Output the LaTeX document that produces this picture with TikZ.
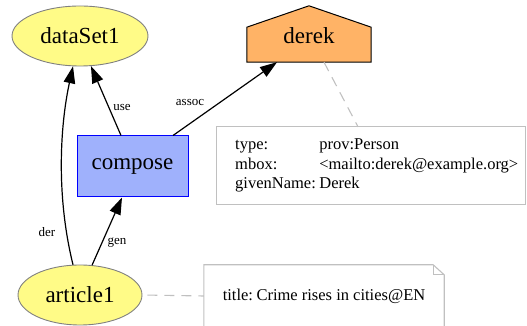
\documentclass[tikz,border=0pt]{standalone}
\usepackage{fontspec}
\setmainfont{Liberation Serif}
\newfontfamily\provfont{Liberation Serif}
\usetikzlibrary{arrows.meta,shapes.geometric,calc}

\definecolor{entityfill}{HTML}{FFFB87}
\definecolor{entityline}{HTML}{808080}
\definecolor{activityfill}{HTML}{9FB1FC}
\definecolor{activityline}{HTML}{0000FF}
\definecolor{agentfill}{HTML}{FFB366}
\definecolor{notegray}{HTML}{C0C0C0}

\tikzset{
  mainfont/.style={font=\provfont\fontsize{23}{27}\selectfont},
  entity/.style={ellipse, draw=entityline, fill=entityfill, line width=0.9pt,
    mainfont, inner sep=0pt},
  activity/.style={rectangle, draw=activityline, fill=activityfill, line width=1pt,
    mainfont, minimum width=111pt, minimum height=61pt, inner sep=0pt},
  agentbox/.style={rectangle, minimum width=124pt, minimum height=56pt, inner sep=0pt},
  agentshape/.style={draw=black, fill=agentfill, line width=1pt, line join=miter},
  notebox/.style={rectangle, inner sep=0pt},
  notelines/.style={draw=notegray, line width=1.1pt},
  notetext/.style={font=\provfont\fontsize{16.5}{19.5}\selectfont, inner sep=0pt},
  rel/.style={draw=black, line width=1.2pt, -{Triangle[length=17pt,width=11.5pt]}},
  rellabel/.style={font=\provfont\fontsize{13}{15}\selectfont, inner sep=0pt},
  annolink/.style={draw=notegray, line width=1.1pt, dash pattern=on 10pt off 7pt},
}

\begin{document}
\begin{tikzpicture}[x=1pt,y=1pt]
  \useasboundingbox (0,0) rectangle (527,326);

  % entities, activity, agent
  \node[entity, minimum width=136pt, minimum height=60pt] (dataSet1) at (80,290) {dataSet1};
  \node[entity, minimum width=124pt, minimum height=60pt] (article1) at (80,31) {article1};
  \node[activity] (compose) at (132.5,159.5) {compose};

  \node[agentbox] (derek) at (309,292) {};
  \path[agentshape] (derek.south west) -- (derek.south east)
    -- ($(derek.south east)+(0,35)$) -- (derek.north)
    -- ($(derek.south west)+(0,35)$) -- cycle;
  \node[mainfont, inner sep=0pt] (dereklabel) at ([yshift=-2pt]derek.center) {derek};

  % annotation for derek
  \node[notebox, minimum width=308pt, minimum height=77pt] (derekinfo) at (371,160.5) {};
  \draw[notelines] (derekinfo.south west) rectangle (derekinfo.north east);
  \node[notetext, anchor=west] (derekinfotext) at (235,160.5) {%
    \begin{tabular}{@{}l@{\hspace{3.5pt}}l@{}}
      type: & prov:Person\\
      mbox: & <mailto:derek@example.org>\\
      givenName: & Derek
    \end{tabular}};

  % annotation for article1
  \node[notebox, notetext, minimum width=240pt, minimum height=62pt] (articleinfo) at (324,30)
    {title:\hspace{3.5pt}Crime rises in cities@EN};
  \draw[notelines] (articleinfo.south west) -- ($(articleinfo.north west)$)
    -- ($(articleinfo.north east)+(-11,0)$) -- ($(articleinfo.north east)+(0,-10)$)
    -- (articleinfo.south east);
  \draw[notelines] ($(articleinfo.north east)+(-11,0)$) -- ($(articleinfo.north east)+(-11,-10)$)
    -- ($(articleinfo.north east)+(0,-10)$);

  % relations
  \draw[rel] (article1.103) .. controls (56,130) and (60,200) .. (dataSet1.257);
  \draw[rel] (article1.68) -- ([xshift=-10.5pt]compose.south);
  \draw[rel] ([xshift=-11.5pt]compose.north) -- (dataSet1.290);
  \draw[rel] ([xshift=40.5pt]compose.north) -- ([xshift=-32pt]derek.south);

  \node[rellabel] (derlabel) at (47,94) {der};
  \node[rellabel] (genlabel) at (117,83) {gen};
  \node[rellabel] (uselabel) at (122,218) {use};
  \node[rellabel] (assoclabel) at (190,223) {assoc};

  % annotation links
  \draw[annolink] ([xshift=15pt]derek.south) -- ([xshift=-13pt]derekinfo.north);
  \draw[annolink, shorten <=5pt] (article1.east) -- (articleinfo.west);
\end{tikzpicture}
\end{document}
